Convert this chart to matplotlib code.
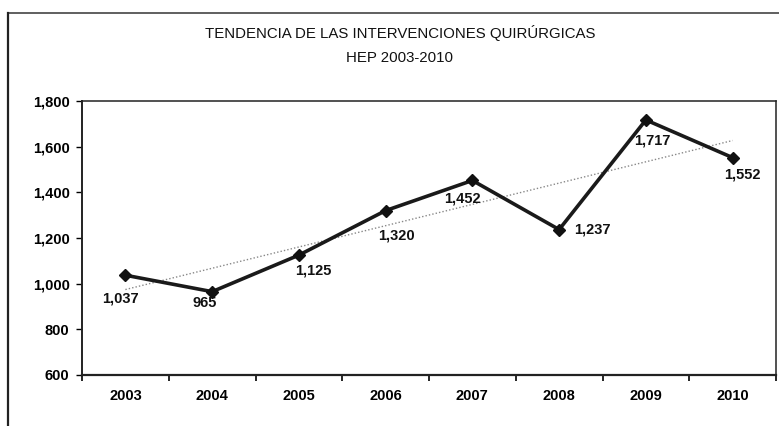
import matplotlib.pyplot as plt
import numpy as np

years = ['2003', '2004', '2005', '2006', '2007', '2008', '2009', '2010']
cirugias = [1037, 965, 1125, 1320, 1452, 1237, 1717, 1552]
y_ticks = [600, 800, 1000, 1200, 1400, 1600, 1800]

plt.rcParams['font.family'] = ['Liberation Sans', 'DejaVu Sans']

fig = plt.figure(figsize=(7.79, 4.26), dpi=100)
ax = fig.add_axes([82/779, 1-375/426, 694/779, 274/426])

x = np.arange(len(years))
vals = np.array(cirugias)

# linea de tendencia (ajuste lineal, como en excel)
m, b = np.polyfit(x, vals, 1)
ax.plot(x, m*x + b, ls=(0, (1, 1.5)), color='#888888', lw=1.0, zorder=2)

ax.plot(x, vals, color='#1a1a1a', lw=2.6, marker='D', markersize=6.5,
        markerfacecolor='#111111', markeredgecolor='#111111', zorder=3)

# etiquetas de datos (movidas a mano en el original)
offs = [(-5, -23), (-7, -11), (14, -15), (11, -25), (-10, -18), (33, 0), (6, -21), (10, -17)]
for i, v in enumerate(cirugias):
    ax.annotate(f'{v:,}', (x[i], v), xytext=offs[i], textcoords='offset pixels',
                ha='center', va='center', fontsize=10.5, fontweight='bold', color='#111111')

ax.set_xlim(-0.5, len(years) - 0.5)
ax.set_ylim(600, 1800)
ax.set_yticks(y_ticks)
ax.set_yticklabels([f'{t:,}' for t in y_ticks], fontsize=10.5, fontweight='bold')
ax.set_xticks(x)
ax.set_xticklabels(years, fontsize=10.5, fontweight='bold')
ax.tick_params(axis='x', length=0, pad=10)
ax.set_xticks(np.arange(len(years) + 1) - 0.5, minor=True)
ax.tick_params(axis='x', which='minor', length=4, width=1.2, direction='out')
ax.tick_params(axis='y', length=4, width=1, direction='out', pad=5)
for s in ax.spines.values():
    s.set_color('#222222')
    s.set_linewidth(1.1)
ax.spines['bottom'].set_linewidth(1.6)
ax.spines['left'].set_linewidth(1.4)

fig.text(400/779, 1-33/426, 'TENDENCIA DE LAS INTERVENCIONES QUIRÚRGICAS',
         ha='center', va='center', fontsize=10.8, color='#111111')
fig.text(400/779, 1-58/426, 'HEP 2003-2010', ha='center', va='center',
         fontsize=10.8, color='#111111')

# marco exterior del grafico
fig.add_artist(plt.Line2D([8/779, 1], [1-13/426, 1-13/426], color='#444444', lw=1.2))
fig.add_artist(plt.Line2D([8/779, 8/779], [0, 1-13/426], color='#222222', lw=1.6))

fig.savefig('out.png', dpi=100)
